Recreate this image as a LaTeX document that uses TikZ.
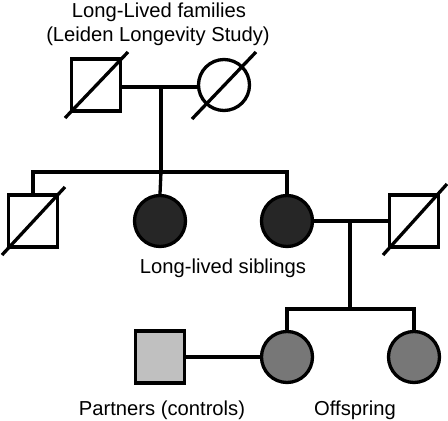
\documentclass[tikz,border=0pt]{standalone}
\usepackage{fontspec}
\setmainfont{Liberation Sans}
\usetikzlibrary{calc}
\definecolor{sibfill}{HTML}{262626}
\definecolor{offfill}{HTML}{777777}
\definecolor{partfill}{HTML}{C0C0C0}
\tikzset{
  sq/.style={draw, line width=3.3pt, rectangle, minimum width=49pt, minimum height=52pt, inner sep=0pt, fill=white},
  circ/.style={draw, line width=3.3pt, circle, minimum size=51pt, inner sep=0pt, fill=white},
  link/.style={line width=3.3pt},
  lbl/.style={font=\fontsize{20.2pt}{24pt}\selectfont, anchor=base, inner sep=0pt}
}
\begin{document}
\begin{tikzpicture}[x=1pt,y=-1pt]
\useasboundingbox (0,0) rectangle (448,421);
% generation I
\node[sq] (gf) at (96,85) {};
\node[circ] (gm) at (224,85) {};
% generation II
\node[sq] (s1) at (33,221) {};
\node[circ, fill=sibfill] (s2) at (160,221) {};
\node[circ, fill=sibfill] (s3) at (287,221) {};
\node[sq] (sp) at (414,221) {};
% generation III
\node[sq, fill=partfill] (pa) at (160,357) {};
\node[circ, fill=offfill] (o1) at (287,357) {};
\node[circ, fill=offfill] (o2) at (414,357) {};
% coordinates
\coordinate (m1) at (161,87);
\coordinate (b1) at (161,172);
\coordinate (b1l) at (33,172);
\coordinate (b1r) at (287,172);
\coordinate (m2) at (350,221);
\coordinate (b2) at (350,309);
\coordinate (b2l) at (287,309);
\coordinate (b2r) at (414,309);
% connectors
\draw[link] (gf.east |- m1) -- (gm.west |- m1);
\draw[link] (m1) -- (b1);
\draw[link, line cap=rect] (b1l) -- (b1r);
\draw[link] (b1l) -- (s1.north);
\draw[link] (b1) -- (s2.north);
\draw[link] (b1r) -- (s3.north);
\draw[link] (s3.east) -- (sp.west);
\draw[link] (m2) -- (b2);
\draw[link, line cap=rect] (b2l) -- (b2r);
\draw[link] (b2l) -- (o1.north);
\draw[link] (b2r) -- (o2.north);
\draw[link] (pa.east) -- (o1.west);
% deceased marks
\draw[link] ($(gf.center)+(-31,33)$) -- ($(gf.center)+(32,-33)$);
\draw[link] ($(gm.center)+(-32,34)$) -- ($(gm.center)+(32,-33)$);
\draw[link] ($(s1.center)+(-31,34)$) -- ($(s1.center)+(32,-34)$);
\draw[link] ($(sp.center)+(-31,34)$) -- ($(sp.center)+(33,-37)$);
% labels
\node[lbl] (t1) at (159,17) {Long-Lived families};
\node[lbl] (t2) at (158,41) {(Leiden Longevity Study)};
\node[lbl] (t3) at (223,273) {Long-lived siblings};
\node[lbl] (t4) at (162,415) {Partners (controls)};
\node[lbl] (t5) at (355,415) {Offspring};
\end{tikzpicture}
\end{document}
